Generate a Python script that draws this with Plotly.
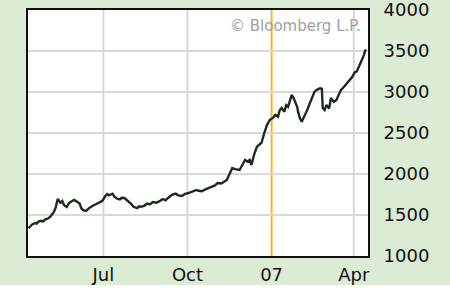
import plotly.graph_objects as go

dates = [
    "2006-04-10", "2006-04-12", "2006-04-14", "2006-04-17", "2006-04-19", "2006-04-21",
    "2006-04-24", "2006-04-26", "2006-04-28", "2006-05-01", "2006-05-04", "2006-05-08",
    "2006-05-10", "2006-05-12", "2006-05-15", "2006-05-17", "2006-05-19", "2006-05-22",
    "2006-05-24", "2006-05-26", "2006-05-30", "2006-06-01", "2006-06-05", "2006-06-07",
    "2006-06-09", "2006-06-12", "2006-06-14", "2006-06-16", "2006-06-19", "2006-06-21",
    "2006-06-23", "2006-06-26", "2006-06-28", "2006-06-30", "2006-07-03", "2006-07-05",
    "2006-07-07", "2006-07-11", "2006-07-13", "2006-07-16", "2006-07-19", "2006-07-21",
    "2006-07-24", "2006-07-27", "2006-07-31", "2006-08-03", "2006-08-07", "2006-08-09",
    "2006-08-11", "2006-08-15", "2006-08-18", "2006-08-21", "2006-08-24", "2006-08-28",
    "2006-08-31", "2006-09-04", "2006-09-07", "2006-09-11", "2006-09-14", "2006-09-18",
    "2006-09-21", "2006-09-25", "2006-09-28", "2006-10-02", "2006-10-06", "2006-10-11",
    "2006-10-13", "2006-10-17", "2006-10-20", "2006-10-24", "2006-10-27", "2006-10-31",
    "2006-11-03", "2006-11-07", "2006-11-10", "2006-11-13", "2006-11-16", "2006-11-19",
    "2006-11-22", "2006-11-27", "2006-11-30", "2006-12-03", "2006-12-06", "2006-12-08",
    "2006-12-10", "2006-12-13", "2006-12-16", "2006-12-19", "2006-12-21", "2006-12-24",
    "2006-12-27", "2006-12-30", "2007-01-03", "2007-01-05", "2007-01-08", "2007-01-10",
    "2007-01-12", "2007-01-15", "2007-01-17", "2007-01-19", "2007-01-23", "2007-01-25",
    "2007-01-26", "2007-01-29", "2007-01-30", "2007-02-01", "2007-02-03", "2007-02-06",
    "2007-02-09", "2007-02-12", "2007-02-15", "2007-02-17", "2007-02-20", "2007-02-23",
    "2007-02-25", "2007-02-26", "2007-02-28", "2007-03-02", "2007-03-05", "2007-03-07",
    "2007-03-10", "2007-03-13", "2007-03-16", "2007-03-18", "2007-03-21", "2007-03-24",
    "2007-03-27", "2007-03-30", "2007-04-02", "2007-04-04", "2007-04-07", "2007-04-10",
    "2007-04-12", "2007-04-13", "2007-04-14",
]
index_values = [
    1340, 1365, 1385, 1400, 1395, 1420,
    1430, 1420, 1445, 1455, 1480, 1540,
    1600, 1695, 1650, 1670, 1620, 1598,
    1640, 1660, 1683, 1670, 1640, 1580,
    1560, 1549, 1575, 1590, 1610, 1622,
    1640, 1655, 1670, 1674, 1730, 1756,
    1740, 1760, 1725, 1700, 1690, 1710,
    1707, 1680, 1640, 1600, 1585, 1605,
    1600, 1615, 1640, 1630, 1659, 1650,
    1665, 1695, 1680, 1720, 1745, 1760,
    1740, 1732, 1755, 1768, 1785, 1805,
    1795, 1790, 1810, 1825, 1841, 1860,
    1890, 1885, 1905, 1927, 2000, 2073,
    2060, 2049, 2110, 2171, 2150, 2171,
    2110, 2240, 2333, 2360, 2381, 2500,
    2598, 2659, 2690, 2720, 2700, 2780,
    2805, 2760, 2840, 2820, 2963, 2930,
    2902, 2820, 2760, 2680, 2638, 2700,
    2780, 2866, 2950, 3004, 3030, 3045,
    3040, 2805, 2780, 2841, 2800, 2927,
    2880, 2902, 2980, 3024, 3060, 3100,
    3146, 3180, 3240, 3248, 3320, 3390,
    3450, 3491, 3520,
]

x_tick_vals = ["2006-07-01", "2006-10-01", "2007-01-01", "2007-04-01"]
x_tick_text = ["Jul", "Oct", "07", "Apr"]
grid_x_vals = ["2006-07-01", "2006-10-01", "2007-04-01"]
y_tick_vals = [1000, 1500, 2000, 2500, 3000, 3500, 4000]
year_marker = "2007-01-01"

fig = go.Figure()
fig.add_trace(go.Scatter(
    x=dates, y=index_values, mode="lines",
    line=dict(color="#1c2a1c", width=2.4),
    hoverinfo="skip",
))

# vertical gridlines (excluding the year marker, which is orange)
for gx in grid_x_vals:
    fig.add_shape(type="line", xref="x", yref="paper",
                  x0=gx, x1=gx, y0=0, y1=1,
                  line=dict(color="#d9d9d9", width=2), layer="between")

fig.add_shape(type="line", xref="x", yref="paper",
              x0=year_marker, x1=year_marker, y0=0, y1=1,
              line=dict(color="#f7b52a", width=2), layer="between")

# white strip at bottom of page
fig.add_shape(type="rect", xref="paper", yref="paper",
              x0=-0.2, x1=1.5, y0=-0.5, y1=-0.118,
              fillcolor="white", line=dict(width=0), layer="below")

fig.add_annotation(text="© Bloomberg L.P.", xref="paper", yref="paper",
                   x=0.985, y=0.935, xanchor="right", yanchor="middle",
                   showarrow=False,
                   font=dict(family="DejaVu Sans", size=15, color="#a0a0a0"))

fig.update_layout(
    width=450, height=294,
    margin=dict(l=28, r=82, t=10, b=38),
    paper_bgcolor="#dcebd4",
    plot_bgcolor="white",
    showlegend=False,
    font=dict(family="DejaVu Sans", size=18, color="#111111"),
)
fig.update_xaxes(
    range=["2006-04-09 12:00", "2007-04-16 12:00"],
    tickmode="array", tickvals=x_tick_vals, ticktext=x_tick_text,
    showgrid=False,
    showline=True, mirror=True, linecolor="#111111", linewidth=2,
    ticks="", ticklabelstandoff=1, ticklabeloverflow="allow",
    zeroline=False, automargin=False,
)
fig.update_yaxes(
    range=[1000, 4000], side="right",
    tickmode="array", tickvals=y_tick_vals,
    showgrid=True, gridcolor="#d9d9d9", gridwidth=2,
    showline=True, mirror=True, linecolor="#111111", linewidth=2,
    ticks="", ticklabelstandoff=10, ticklabeloverflow="allow",
    zeroline=False, automargin=False,
)

fig.write_html("out.html")
